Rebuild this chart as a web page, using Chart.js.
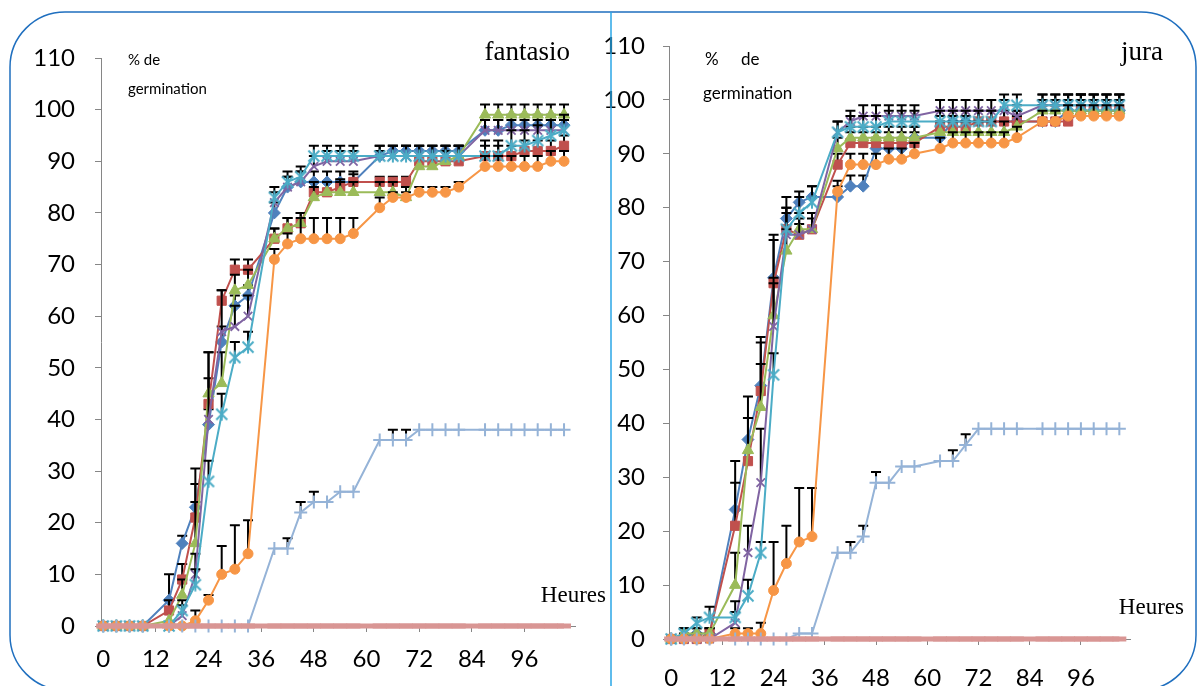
<!DOCTYPE html>
<html>
<head>
<meta charset="utf-8">
<script src="https://cdn.jsdelivr.net/npm/chart.js@4.4.1/dist/chart.umd.min.js"></script>
<style>
  html, body { margin: 0; padding: 0; background: #ffffff; }
  #wrap { position: relative; width: 1198px; height: 686px; overflow: hidden; }
  canvas { position: absolute; top: 0; }
  #frame { position: absolute; left: 0; top: 0; pointer-events: none; }
  .lbl { position: absolute; white-space: nowrap; color: #000; line-height: 1; }
  .serif { font-family: "Liberation Serif", "DejaVu Serif", serif; }
  .sans { font-family: Lato, "Open Sans", sans-serif; }
</style>
</head>
<body>
<div id="wrap">
  <canvas id="chartFantasio" width="611" height="686" style="left:0px"></canvas>
  <canvas id="chartJura" width="618" height="686" style="left:580px"></canvas>
  <svg id="frame" width="1198" height="686">
    <rect x="10" y="12" width="1186" height="678" rx="55" ry="55" fill="none" stroke="#1f6fbf" stroke-width="1.5"/>
    <line x1="611" y1="12" x2="611" y2="686" stroke="#2aa6e6" stroke-width="1.5"/>
  </svg>
  <div class="lbl serif" style="right:628px; top:38px; font-size:27px;">fantasio</div>
  <div class="lbl sans" style="left:128px; top:52px; font-size:15px;">% de</div>
  <div class="lbl sans" style="left:128px; top:81px; font-size:15px;">germination</div>
  <div class="lbl serif" style="right:592px; top:583px; font-size:23px;">Heures</div>
  <div class="lbl serif" style="right:35px; top:38px; font-size:27px;">jura</div>
  <div class="lbl sans" style="left:705px; top:50px; font-size:17px; word-spacing:18px;">% de</div>
  <div class="lbl sans" style="left:703px; top:84px; font-size:17px;">germination</div>
  <div class="lbl serif" style="right:14px; top:595px; font-size:23px;">Heures</div>
</div>
<script>
// Sampling times (hours) shared by every series
const hours = [0, 3, 6, 9, 15, 18, 21, 24, 27, 30, 33, 39, 42, 45, 48, 51, 54, 57, 63, 66, 69, 72, 75, 78, 81, 87, 90, 93, 96, 99, 102, 105];
const xTickValues = [0, 12, 24, 36, 48, 60, 72, 84, 96];
const yTickValues = [0, 10, 20, 30, 40, 50, 60, 70, 80, 90, 100, 110];

// fantasio: cumulative germination (%)
const fantasioS1 = [0, 0, 0, 0, 5, 16, 23, 39, 55, 62, 64, 80, 85, 86, 86, 86, 86, 86, 91, 92, 92, 92, 92, 92, 92, 96, 96, 97, 97, 97, 97, 97];
const fantasioS2 = [0, 0, 0, 0, 3, 9, 21, 43, 63, 69, 69, 75, 77, 78, 84, 84, 85, 86, 86, 86, 86, 90, 90, 90, 90, 91, 91, 91, 92, 92, 92, 93];
const fantasioS3 = [0, 0, 0, 0, 1, 6, 16, 45, 47, 65, 66, 75, 77, 78, 83, 84, 84, 84, 84, 84, 83, 89, 89, 90, 91, 99, 99, 99, 99, 99, 99, 99];
const fantasioS4 = [0, 0, 0, 0, 0, 2, 10, 40, 57, 58, 60, 82, 85, 86, 89, 90, 90, 90, 91, 91, 91, 91, 91, 91, 91, 96, 96, 96, 96, 96, 96, 96];
const fantasioS5 = [0, 0, 0, 0, 0, 3, 8, 28, 41, 52, 54, 83, 86, 87, 91, 91, 91, 91, 91, 91, 91, 91, 91, 91, 91, 91, 91, 93, 93, 94, 95, 96];
const fantasioS6 = [0, 0, 0, 0, 0, 0, 1, 5, 10, 11, 14, 71, 74, 75, 75, 75, 75, 76, 81, 83, 83, 84, 84, 84, 85, 89, 89, 89, 89, 89, 90, 90];
const fantasioS7 = [0, 0, 0, 0, 0, 0, 0, 0, 0, 0, 0, 15, 15, 22, 24, 24, 26, 26, 36, 36, 36, 38, 38, 38, 38, 38, 38, 38, 38, 38, 38, 38];
const fantasioS8 = [0, 0, 0, 0, 0, 0, 0, 0, 0, 0, 0, 0, 0, 0, 0, 0, 0, 0, 0, 0, 0, 0, 0, 0, 0, 0, 0, 0, 0, 0, 0, 0];

// fantasio: standard errors (upper bars)
const fantasioE1 = [0, 0, 0, 0, 5, 1.5, 7.5, 3, 3, 2, 2, 2, 2, 2, 2, 2, 2, 2, 1, 1, 1, 1, 1, 1, 1, 2, 2, 2, 2, 2, 2, 2];
const fantasioE2 = [0, 0, 0, 0, 2, 3, 6.5, 5, 2, 2, 2, 2, 2, 2, 2, 2, 1.5, 1.5, 1, 1, 1, 1, 1, 1, 1, 2, 2, 2, 2, 2, 2, 2];
const fantasioE3 = [0, 0, 0, 0, 0, 3, 8, 8, 6, 3, 3, 2, 2, 2, 2, 2, 2, 2, 2, 2, 2, 2, 2, 2, 2, 2, 2, 2, 2, 2, 2, 2];
const fantasioE4 = [0, 0, 0, 0, 0, 2, 4, 13, 8, 4, 4, 2, 2, 2, 2, 2, 2, 2, 2, 2, 2, 2, 2, 2, 2, 2, 2, 2, 2, 2, 2, 2];
const fantasioE5 = [0, 0, 0, 0, 0, 2, 3, 4, 4, 3, 3, 2, 2, 2, 2, 2, 2, 2, 2, 2, 2, 2, 2, 2, 2, 3, 3, 3, 3, 3, 3, 3];
const fantasioE6 = [0, 0, 0, 0, 0, 0, 2, 1, 5.5, 8.5, 6.5, 2, 2, 4, 4, 4, 4, 3, 2, 1, 1, 1, 1, 1, 1, 2, 2, 2, 2, 2, 2, 2];
const fantasioE7 = [0, 0, 0, 0, 0, 0, 0, 0, 0, 0, 0, 0, 2, 2, 2, 0, 0, 0, 0, 2, 2, 0, 0, 0, 0, 0, 0, 0, 0, 0, 0, 0];

// jura: cumulative germination (%)
const juraS1 = [0, 0.5, 1, 1, 24, 37, 47, 67, 78, 81, 82, 82, 84, 84, 91, 91, 91, 93, 93, 96, 96, 96, 96, 96, 96, 96, 96, 98, 98, 98, 98, 98];
const juraS2 = [0, 0, 0, 1, 21, 33, 46, 66, 76, 75, 76, 88, 92, 92, 92, 92, 92, 92, 95, 95, 95, 96, 96, 96, 96, 96, 96, 96, 98, 98, 98, 98];
const juraS3 = [0, 1, 1, 1, 10, 35, 43, 60, 72, 76, 76, 91, 93, 93, 93, 93, 93, 93, 94, 94, 94, 94, 94, 94, 95, 98, 98, 98, 98, 98, 98, 98];
const juraS4 = [0, 0, 0, 0, 3, 16, 29, 58, 75, 75, 76, 94, 96, 97, 97, 97, 97, 97, 98, 98, 98, 98, 98, 98, 97, 99, 99, 99, 99, 99, 99, 99];
const juraS5 = [0, 1, 3, 4, 4, 8, 16, 49, 76, 79, 81, 94, 95, 95, 95, 96, 96, 96, 96, 96, 96, 96, 96, 99, 99, 99, 99, 99, 99, 99, 99, 99];
const juraS6 = [0, 0, 0, 0, 1, 1, 1, 9, 14, 18, 19, 83, 88, 88, 88, 89, 89, 90, 91, 92, 92, 92, 92, 92, 93, 96, 96, 97, 97, 97, 97, 97];
const juraS7 = [0, 0, 0, 0, 0, 0, 0, 0, 0, 1, 1, 16, 16, 19, 29, 29, 32, 32, 33, 33, 36, 39, 39, 39, 39, 39, 39, 39, 39, 39, 39, 39];
const juraS8 = [0, 0, 0, 0, 0, 0, 0, 0, 0, 0, 0, 0, 0, 0, 0, 0, 0, 0, 0, 0, 0, 0, 0, 0, 0, 0, 0, 0, 0, 0, 0, 0];

// jura: standard errors (upper bars)
const juraE1 = [0, 0.5, 1, 1, 9, 8, 9, 8, 4, 2, 2, 2, 2, 2, 2, 2, 2, 2, 2, 2, 2, 2, 2, 2, 2, 3, 3, 3, 3, 3, 3, 3];
const juraE2 = [0, 0.5, 1, 1, 8, 8, 9, 8, 4, 2, 2, 2, 2, 2, 2, 2, 2, 2, 2, 2, 2, 2, 2, 2, 2, 3, 3, 3, 3, 2, 2, 2];
const juraE3 = [0, 1, 1, 1, 6, 6, 8, 7, 4, 3, 3, 2, 2, 2, 2, 2, 2, 2, 2, 2, 2, 2, 2, 2, 2, 2, 2, 2, 2, 2, 2, 2];
const juraE4 = [0, 0, 0, 0, 2, 5, 10, 8, 4, 3, 3, 2, 2, 2, 2, 2, 2, 2, 2, 2, 2, 2, 2, 2, 2, 2, 2, 2, 2, 2, 2, 2];
const juraE5 = [0, 1, 1, 2, 3, 3, 2, 4, 4, 3, 3, 2, 2, 2, 2, 2, 2, 2, 2, 2, 2, 2, 2, 2, 2, 2, 2, 2, 2, 2, 2, 2];
const juraE6 = [0, 0, 0, 0, 1, 1, 2, 9, 7, 10, 9, 2, 2, 2, 2, 2, 2, 2, 2, 2, 2, 2, 2, 2, 2, 2, 2, 2, 2, 2, 2, 2];
const juraE7 = [0, 0, 0, 0, 0, 0, 0, 0, 0, 0, 0, 0, 2, 2, 2, 0, 0, 0, 0, 2, 2, 0, 0, 0, 0, 0, 0, 0, 0, 0, 0, 0];

// asterisk marker: an "x" crossed by a vertical stroke
function asteriskMarker(color, size) {
  const c = document.createElement('canvas');
  c.width = size; c.height = size;
  const g = c.getContext('2d');
  g.strokeStyle = color; g.lineWidth = 2; g.lineCap = 'butt';
  const a = 1.5, b = size - 1.5, m = size / 2;
  g.beginPath();
  g.moveTo(a, a); g.lineTo(b, b);
  g.moveTo(b, a); g.lineTo(a, b);
  g.moveTo(m, 0.5); g.lineTo(m, size - 0.5);
  g.stroke();
  return c;
}

const styles = [
  { color: '#4f81bd', pointStyle: 'rectRot', radius: 6 },
  { color: '#c0504d', pointStyle: 'rect', radius: 6.5 },
  { color: '#9bbb59', pointStyle: 'triangle', radius: 6.5 },
  { color: '#8064a2', pointStyle: 'crossRot', radius: 6, pointBorder: 1.8 },
  { color: '#4bacc6', pointStyle: asteriskMarker('#4bacc6', 14), radius: 7 },
  { color: '#f79646', pointStyle: 'circle', radius: 5 },
  { color: '#95b3d7', pointStyle: 'cross', radius: 6.5, pointBorder: 2 },
  { color: '#d99694', pointStyle: 'line', radius: 7, lineWidth: 5, pointBorder: 5 }
];

// upper error bars drawn under each series' own markers
const errorBars = {
  id: 'errorBars',
  beforeDatasetDraw(chart, args) {
    const ds = chart.data.datasets[args.index];
    if (!ds.errors) return;
    const xs = chart.scales.x, ys = chart.scales.y, ctx = chart.ctx;
    ctx.save();
    ctx.strokeStyle = '#000';
    ctx.lineWidth = 2;
    ds.data.forEach((p, i) => {
      const e = ds.errors[i];
      if (!e) return;
      const px = xs.getPixelForValue(p.x);
      const y0 = ys.getPixelForValue(p.y);
      const y1 = ys.getPixelForValue(p.y + e);
      ctx.beginPath();
      ctx.moveTo(px, y0); ctx.lineTo(px, y1);
      ctx.moveTo(px - 5, y1); ctx.lineTo(px + 5, y1);
      ctx.stroke();
    });
    ctx.restore();
  }
};

function makeChart(id, series, errors, geo) {
  const datasets = series.map((vals, k) => {
    const s = styles[k];
    return {
      data: vals.map((v, i) => ({ x: hours[i], y: v })),
      errors: errors[k] || null,
      borderColor: s.color,
      backgroundColor: s.color,
      borderWidth: s.lineWidth || 2,
      pointStyle: s.pointStyle,
      pointRadius: s.radius,
      pointBorderWidth: s.pointBorder || 1,
      pointBorderColor: s.color,
      pointBackgroundColor: s.color,
      tension: 0,
      clip: false,
      order: series.length - k
    };
  });
  const tickFont = { family: 'Lato, "Open Sans", sans-serif', size: 24 };
  return new Chart(document.getElementById(id), {
    type: 'line',
    data: { datasets },
    plugins: [errorBars],
    options: {
      responsive: false,
      animation: false,
      events: [],
      layout: { padding: { top: geo.top, right: geo.right, left: 0, bottom: 0 } },
      plugins: { legend: { display: false }, tooltip: { enabled: false } },
      scales: {
        x: {
          type: 'linear', min: -0.5, max: 107.5,
          afterBuildTicks: (sc) => { sc.ticks = xTickValues.map(v => ({ value: v })); },
          afterFit: (sc) => { sc.height = geo.xh; },
          border: { display: true, color: '#868686', width: 1 },
          grid: { drawOnChartArea: false, drawTicks: true, tickLength: 6, color: '#868686' },
          ticks: { color: '#000', font: tickFont, padding: geo.xpad, maxRotation: 0, autoSkip: false }
        },
        y: {
          type: 'linear', min: 0, max: 110,
          afterBuildTicks: (sc) => { sc.ticks = yTickValues.map(v => ({ value: v })); },
          afterFit: (sc) => { sc.width = geo.yw; },
          border: { display: true, color: '#868686', width: 1 },
          grid: { drawOnChartArea: false, drawTicks: true, tickLength: 6, color: '#868686' },
          ticks: { color: '#000', font: tickFont, padding: geo.ypad }
        }
      }
    }
  });
}

makeChart('chartFantasio',
  [fantasioS1, fantasioS2, fantasioS3, fantasioS4, fantasioS5, fantasioS6, fantasioS7, fantasioS8],
  [fantasioE1, fantasioE2, fantasioE3, fantasioE4, fantasioE5, fantasioE6, fantasioE7, null],
  { top: 58, right: 36, xh: 60, yw: 101, xpad: 13, ypad: 20 });

makeChart('chartJura',
  [juraS1, juraS2, juraS3, juraS4, juraS5, juraS6, juraS7, juraS8],
  [juraE1, juraE2, juraE3, juraE4, juraE5, juraE6, juraE7, null],
  { top: 46, right: 68, xh: 47, yw: 89, xpad: 19, ypad: 18 });
</script>
</body>
</html>
